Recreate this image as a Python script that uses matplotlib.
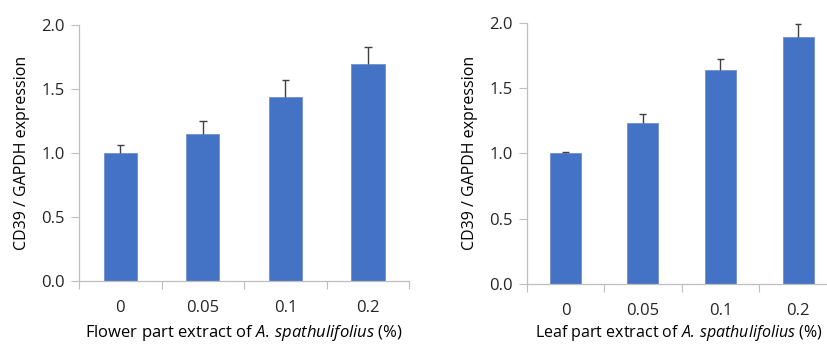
import matplotlib
matplotlib.use("Agg")
import matplotlib.pyplot as plt
import numpy as np

concentrations = ["0", "0.05", "0.1", "0.2"]

flower_mean = [1.00, 1.15, 1.44, 1.70]
flower_err = [0.06, 0.10, 0.13, 0.13]

leaf_mean = [1.00, 1.23, 1.64, 1.89]
leaf_err = [0.01, 0.07, 0.08, 0.10]

BAR_COLOR = "#4472C4"
SPINE_COLOR = "#BFBFBF"
TEXT_COLOR = "#262626"

plt.rcParams["font.family"] = ["Open Sans", "DejaVu Sans"]
plt.rcParams["mathtext.fontset"] = "custom"
plt.rcParams["mathtext.rm"] = "Open Sans"
plt.rcParams["mathtext.it"] = "Open Sans:italic"
plt.rcParams["text.color"] = TEXT_COLOR

fig = plt.figure(figsize=(8.27, 3.44), dpi=100)
ax1 = fig.add_axes([0.0955, 0.184, 0.3994, 0.7425])
ax2 = fig.add_axes([0.6369, 0.1744, 0.3749, 0.7596])


def draw_panel(ax, means, errs, xlabel, xlabel_size):
    x = np.arange(len(concentrations))
    means = np.array(means)
    tops = means + np.array(errs)
    ax.bar(x, means, width=0.4, color=BAR_COLOR, edgecolor="#6E8FD0",
           linewidth=0.6, zorder=2)
    # upper error bars only, starting at bar top
    ax.vlines(x, means, tops, color="#404040", linewidth=1.0, zorder=3)
    ax.hlines(tops, x - 0.045, x + 0.045, color="#404040", linewidth=1.0,
              zorder=3)
    ax.set_xlim(-0.5, len(concentrations) - 0.5)
    ax.set_ylim(0, 2.0)
    ax.set_yticks([0, 0.5, 1.0, 1.5, 2.0])
    ax.set_yticklabels(["0.0", "0.5", "1.0", "1.5", "2.0"])
    ax.set_xticks(x)
    ax.set_xticklabels(concentrations)
    ax.set_xticks(np.arange(len(concentrations) + 1) - 0.5, minor=True)
    ax.tick_params(axis="x", which="major", length=0, pad=14,
                   labelsize=12, labelcolor=TEXT_COLOR)
    ax.tick_params(axis="x", which="minor", length=6, width=0.8,
                   color=SPINE_COLOR, direction="out")
    ax.tick_params(axis="y", length=6, width=0.8, color=SPINE_COLOR,
                   direction="out", labelsize=12, labelcolor=TEXT_COLOR, pad=4)
    for side in ["top", "right"]:
        ax.spines[side].set_visible(False)
    for side in ["left", "bottom"]:
        ax.spines[side].set_color(SPINE_COLOR)
        ax.spines[side].set_linewidth(0.9)
    ax.set_ylabel("CD39 / GAPDH expression", fontsize=11.5, labelpad=8)
    ax.set_xlabel(xlabel, fontsize=xlabel_size, labelpad=5)


draw_panel(ax1, flower_mean, flower_err,
           r"Flower part extract of $\mathit{A.\,spathulifolius}$ (%)", 12)
draw_panel(ax2, leaf_mean, leaf_err,
           r"Leaf part extract of $\mathit{A.\,spathulifolius}$ (%)", 11.5)
ax2.xaxis.set_label_coords(0.491, -0.148)

fig.savefig("out.png", dpi=100)
plt.close(fig)
